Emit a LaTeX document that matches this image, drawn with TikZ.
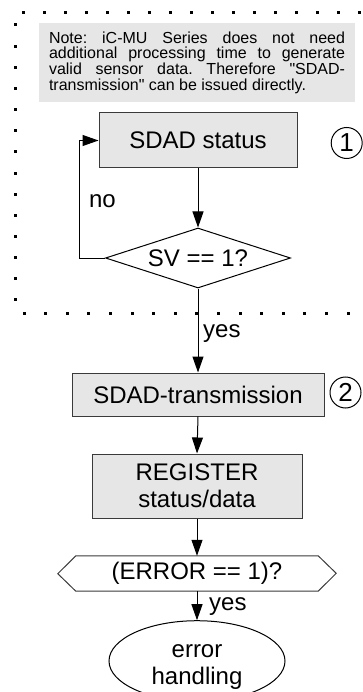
\documentclass[tikz,border=0pt]{standalone}
\usepackage{fontspec}
\setmainfont{Liberation Sans}[Ligatures=TeXOff]
\usetikzlibrary{arrows.meta,shapes.geometric}
\definecolor{boxgray}{HTML}{E6E6E6}
\definecolor{edgegray}{HTML}{3A3A3A}
\begin{document}
\begin{tikzpicture}[x=1pt,y=-1pt,
  font=\fontsize{24}{27}\selectfont,
  proc/.style={draw=edgegray, fill=boxgray, line width=1, inner sep=0},
  conn/.style={line width=1, -{Triangle[length=16,width=11]}},
  lbl/.style={inner sep=0},
  num/.style={draw, circle, line width=1, minimum size=31, inner sep=0, font=\fontsize{26}{26}\selectfont},
]
\useasboundingbox (0,0) rectangle (363,692);
% dotted frame
\foreach \i in {0,...,16} \fill ({23+21.06*\i-1.5},11.5) rectangle ++(3,3);
\foreach \i in {0,...,13} \fill (13.5,{25+21.15*\i-1.5}) rectangle ++(3,3);
\foreach \i in {0,...,15} \fill ({24+21.6*\i-1.5},311.5) rectangle ++(3,3);
% note
\node[fill=boxgray, text width=296, inner xsep=10, inner ysep=0, minimum height=79, align=justify,
      font=\fontsize{16}{15.7}\selectfont] (note) at (197,62.5)
  {\frenchspacing\tolerance=10000 \hyphenpenalty=10000 Note: iC-MU Series does not need\linebreak additional processing time to generate\linebreak valid sensor data. Therefore "SDAD-\linebreak transmission" can be issued directly.};
% nodes
\node[proc, minimum width=198, minimum height=55] (sdad) at (198,140.5) {SDAD status};
\node[draw, line width=1, diamond, aspect=3.08, minimum width=185, minimum height=60, inner sep=0] (sv) at (198,258) {SV == 1?};
\node[proc, minimum width=252, minimum height=43] (tx) at (198,394.5) {SDAD-transmission};
\node[proc, minimum width=210, minimum height=64, align=center] (reg) at (197,486) {REGISTER\\status/data};
\node[minimum width=242, minimum height=35, inner sep=0] (err) at (197,573.5) {(ERROR == 1)?};
\draw[line width=1, draw=edgegray] (err.north west) -- (err.north east) -- ++(18,17.5) -- (err.south east) -- (err.south west) -- ++(-18,-17.5) -- cycle;
\node[draw, ellipse, line width=1, minimum width=176, minimum height=66, inner sep=0, align=center] (eh) at (197,661) {\rule{0pt}{25pt}error\\handling};
\node[num] (c1) at (346.7,143) {1};
\node[num] (c2) at (345.5,392.5) {2};
% labels
\node[lbl, anchor=base] (no) at (102.5,208) {no};
\node[lbl, anchor=base west] (yes1) at (203,337) {yes};
\node[lbl, anchor=base west] (yes2) at (209,610) {yes};
% connectors
\draw[conn] (sdad.south) -- (sv.north);
\draw[conn] (sv.west) -- ++(-26,0) |- (sdad.west);
\draw[conn] (sv.south) -- (tx.north);
\draw[conn] (tx.south) -- (reg.north);
\draw[conn] (reg.south) -- (err.north);
\draw[conn] (err.south) -- (eh.north);
\end{tikzpicture}
\end{document}
